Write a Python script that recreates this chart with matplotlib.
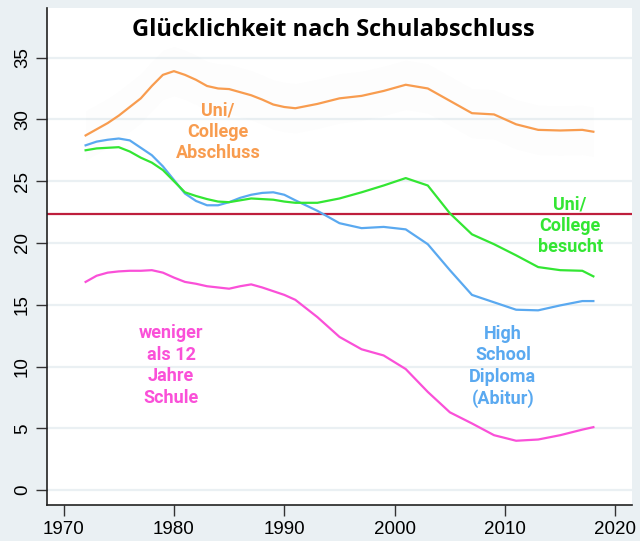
import numpy as np
import matplotlib.pyplot as plt

# GSS-Jahre und geglättete Werte (Anteil "very happy", %)
years = [1972, 1973, 1974, 1975, 1976, 1977, 1978, 1979, 1980, 1981, 1982, 1983,
         1984, 1985, 1986, 1987, 1988, 1989, 1990, 1991, 1993, 1995, 1997, 1999,
         2001, 2003, 2005, 2007, 2009, 2011, 2013, 2015, 2017, 2018]

uni_abschluss = [28.7, 29.2, 29.7, 30.3, 31.0, 31.7, 32.7, 33.6, 33.9, 33.6, 33.2, 32.7,
                 32.5, 32.45, 32.2, 31.95, 31.6, 31.2, 31.0, 30.9, 31.25, 31.7, 31.9, 32.3,
                 32.8, 32.5, 31.5, 30.5, 30.4, 29.6, 29.15, 29.1, 29.15, 29.0]

high_school = [27.9, 28.2, 28.35, 28.45, 28.3, 27.7, 27.1, 26.2, 25.1, 24.0, 23.4, 23.05,
               23.05, 23.3, 23.65, 23.9, 24.05, 24.1, 23.9, 23.45, 22.6, 21.6, 21.2, 21.3,
               21.1, 19.9, 17.8, 15.8, 15.2, 14.6, 14.55, 14.95, 15.3, 15.3]

uni_besucht = [27.5, 27.65, 27.7, 27.75, 27.4, 26.9, 26.5, 25.9, 25.0, 24.1, 23.8, 23.55,
               23.35, 23.3, 23.45, 23.6, 23.55, 23.5, 23.35, 23.25, 23.25, 23.6, 24.1, 24.65,
               25.25, 24.65, 22.4, 20.7, 19.9, 19.0, 18.05, 17.8, 17.75, 17.3]

unter_12 = [16.85, 17.35, 17.6, 17.7, 17.75, 17.75, 17.8, 17.6, 17.2, 16.85, 16.7, 16.5,
            16.4, 16.3, 16.5, 16.65, 16.4, 16.1, 15.8, 15.4, 14.0, 12.4, 11.4, 10.9,
            9.8, 7.95, 6.3, 5.4, 4.45, 4.0, 4.1, 4.45, 4.9, 5.1]

gesamt = 22.35

bg = '#EAF0F3'
c_orange = '#F89C4F'
c_blue = '#5AA9F0'
c_green = '#33E633'
c_pink = '#FA50D8'
c_red = '#BE1E3C'

fig = plt.figure(figsize=(6.4, 5.41), dpi=100, facecolor=bg)
ax = fig.add_axes([0.0734, 0.0665, 0.9141, 0.9185])
ax.set_facecolor('white')

# Gitterlinien
for y in range(0, 40, 5):
    ax.axhline(y, color=bg, lw=1.6, zorder=0)

x = np.array(years)
series = [(uni_abschluss, c_orange), (high_school, c_blue),
          (uni_besucht, c_green), (unter_12, c_pink)]

# kaum sichtbares Konfidenzband (nur beim oberen Verlauf erkennbar)
v = np.array(uni_abschluss)
ax.fill_between(x, v - 2.0, v + 2.0, color='#9aa0a6', alpha=0.015, lw=0, zorder=1)

for vals, col in series:
    ax.plot(x, vals, color=col, lw=1.6, zorder=3)

ax.axhline(gesamt, color=c_red, lw=1.6, zorder=2)

ax.set_xlim(1968.5, 2021.5)
ax.set_ylim(-1.2, 39.0)
ax.set_xticks([1970, 1980, 1990, 2000, 2010, 2020])
ax.set_yticks([0, 5, 10, 15, 20, 25, 30, 35])
ax.tick_params(axis='both', length=8, width=1, color='#333333')
for lab in ax.get_xticklabels():
    lab.set_fontfamily('Liberation Sans')
    lab.set_fontsize(13.5)
for lab in ax.get_yticklabels():
    lab.set_fontfamily('Liberation Sans')
    lab.set_fontsize(13.5)
    lab.set_rotation(90)
    lab.set_va('center')

for s in ['top', 'right']:
    ax.spines[s].set_visible(False)
for s in ['left', 'bottom']:
    ax.spines[s].set_color('#222222')
    ax.spines[s].set_linewidth(1.2)

ax.text(0.49, 0.955, 'Glücklichkeit nach Schulabschluss', transform=ax.transAxes,
        ha='center', va='center', fontsize=17, fontweight='bold',
        family='Open Sans', color='black')

lab_kw = dict(ha='center', va='center', fontsize=13, fontweight='bold',
              family='Roboto', linespacing=1.25)
ax.text(1984.0, 29.0, 'Uni/\nCollege\nAbschluss', color=c_orange, **lab_kw)
ax.text(2015.9, 21.4, 'Uni/\nCollege\nbesucht', color=c_green, **lab_kw)
ax.text(1979.75, 10.1, 'weniger\nals 12\nJahre\nSchule', color=c_pink, **lab_kw)
ax.text(2009.8, 10.0, 'High\nSchool\nDiploma\n(Abitur)', color=c_blue, **lab_kw)

fig.savefig('out.png', dpi=100, facecolor=bg)
